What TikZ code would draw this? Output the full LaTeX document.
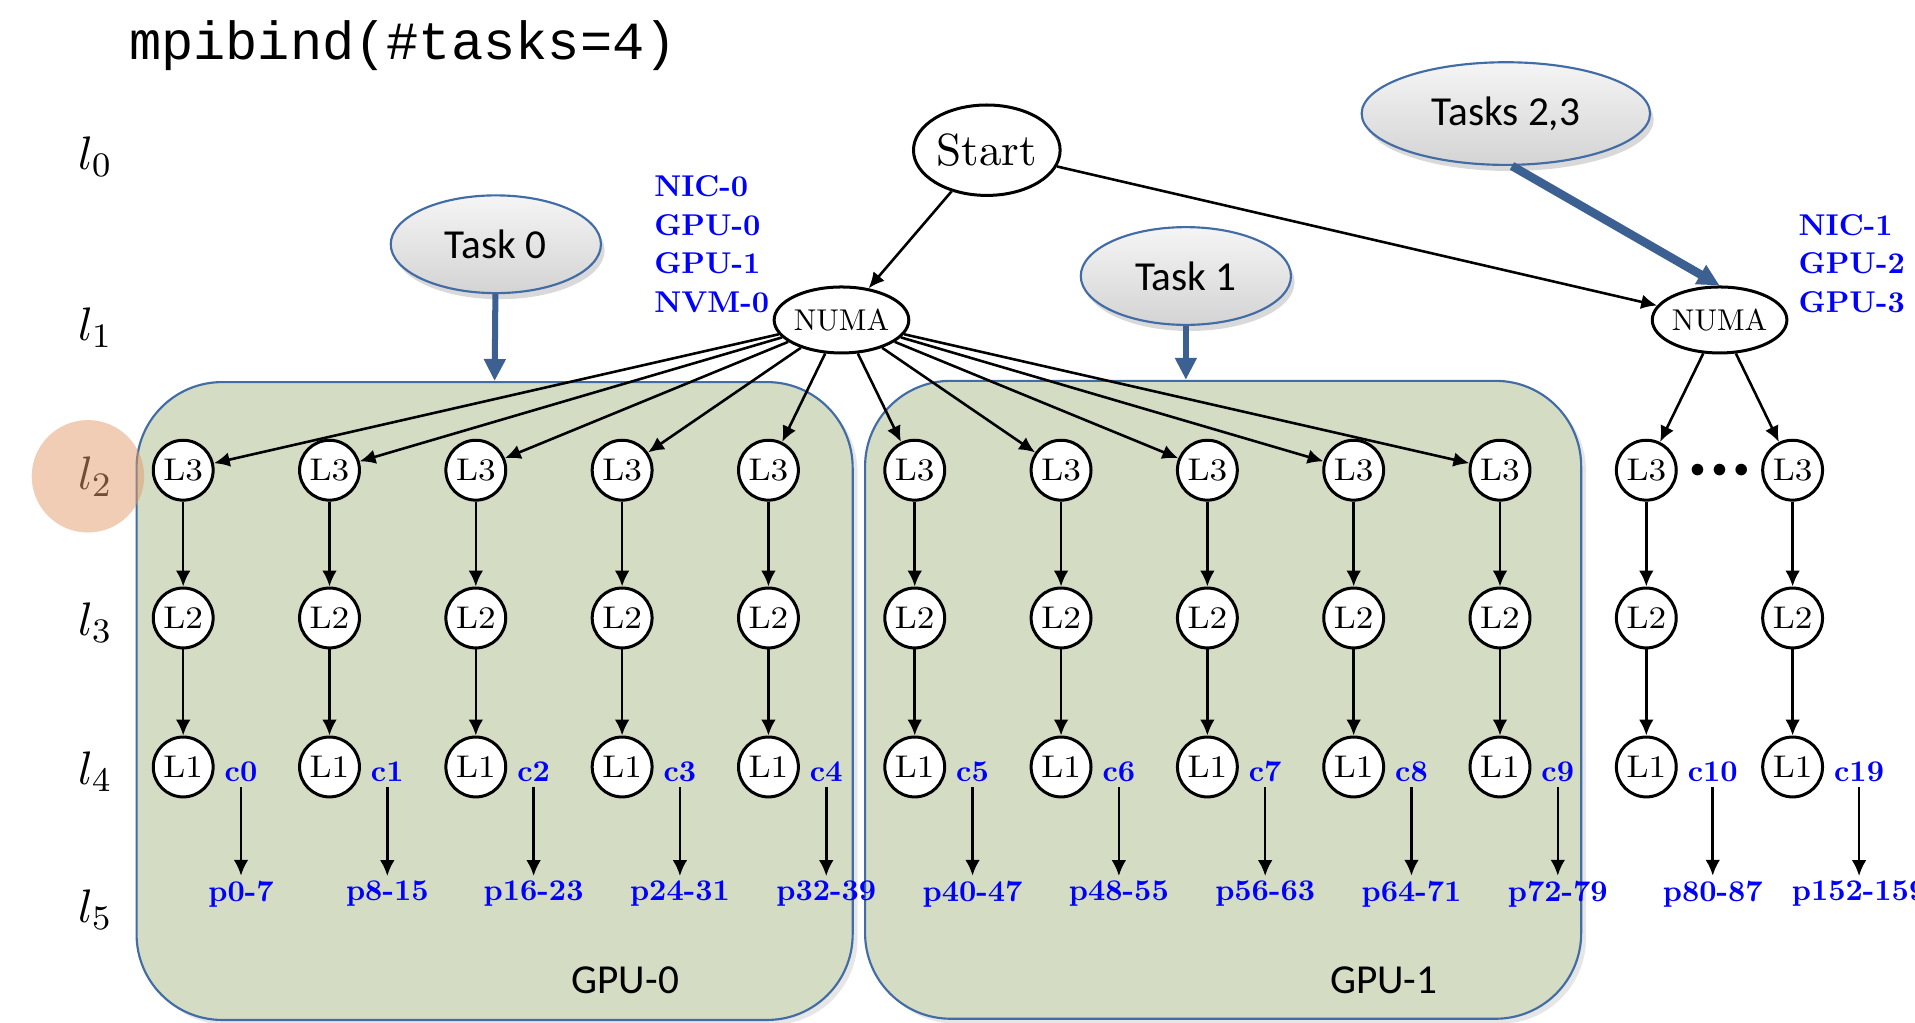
\documentclass[tikz,border=0pt]{standalone}
\usepackage{fontspec}
\usepackage{graphicx}
\setsansfont{Carlito}
\newfontfamily\codefont{Liberation Mono}
\usetikzlibrary{arrows.meta,shapes.geometric,shadows}

% Tree labels are set at 10pt and shrunk, so they keep the 10pt letter shapes.
\newcommand\hwtag[1]{\scalebox{0.7}{#1}}
\newcommand\cachetag[1]{\scalebox{0.82}[0.73]{#1}}

\begin{document}
\begin{tikzpicture}[
    x=0.01cm,
    y=-0.01cm,
    >={Latex[length=1.3mm,width=1.2mm]},
    cache/.style={circle, draw=black, fill=white, line width=0.7pt,
        minimum size=4.9mm, inner sep=0pt, font=\fontsize{10}{12}\selectfont},
    numa/.style={ellipse, draw=black, fill=white, line width=0.7pt,
        minimum width=10.4mm, minimum height=5.4mm, inner sep=0pt,
        font=\fontsize{10}{12}\selectfont},
    root/.style={ellipse, draw=black, fill=white, line width=0.7pt,
        minimum width=12mm, minimum height=7.4mm, inner sep=0pt,
        font=\fontsize{10.5}{12}\selectfont},
    task/.style={
        ellipse,
        draw=taskline,
        line width=0.5pt,
        top color=gray!8,
        bottom color=gray!34,
        minimum height=8mm,
        inner sep=0pt,
        font=\sffamily\fontsize{9.6}{11}\selectfont,
        drop shadow={opacity=0.3, shadow xshift=0.3mm, shadow yshift=-0.5mm}
    },
    gpubox/.style={
        draw=taskline,
        line width=0.5pt,
        fill=gpufill,
        rounded corners=7mm,
        minimum width=58.6mm,
        minimum height=52.2mm,
        drop shadow={opacity=0.2, shadow xshift=0.4mm, shadow yshift=-0.4mm}
    },
    gpulabel/.style={font=\sffamily\fontsize{9.6}{11}\selectfont},
    dev/.style={text=blue, font=\bfseries\fontsize{10}{12.8}\selectfont, inner sep=0pt},
    core/.style={text=blue, font=\bfseries\fontsize{10}{12}\selectfont, inner sep=1pt},
    level/.style={font=\fontsize{11}{12}\selectfont},
    edge/.style={->, line width=0.6pt},
    assign/.style={draw=taskarrow, -{Triangle[length=1.8mm,width=1.7mm]}}
]

\definecolor{taskline}{RGB}{66,108,165}
\definecolor{taskarrow}{RGB}{60,96,145}
\definecolor{gpufill}{RGB}{212,220,196}
\definecolor{hilite}{RGB}{225,155,105}

\path[use as bounding box] (0,0) rectangle (1568,837);

% GPU regions behind the tree.
\node[gpubox] (gpu0) at (405,574) {};
\node[gpubox] (gpu1) at (1001.5,573) {};
\node[gpulabel] (gpu0name) at (512,803) {GPU-0};
\node[gpulabel] (gpu1name) at (1133,803) {GPU-1};

\node[anchor=west, inner sep=0pt, font=\codefont\fontsize{12.5}{14}\selectfont]
    (title) at (105,37) {mpibind(\#tasks=4)};

% Tree levels.
\foreach \n/\y in {0/128,1/268,2/390,3/510,4/632,5/745} {
    \node[level] (lev\n) at (78,\y) {$l_\n$};
}
\node[circle, fill=hilite, fill opacity=0.5, minimum size=9.2mm] (focus) at (72,390) {};

% Machine topology.
\node[root] (start) at (808,123) {Start};
\node[numa] (numa0) at (689,262) {\hwtag{NUMA}};
\node[numa] (numa1) at (1408,262) {\hwtag{NUMA}};
\node[dev, anchor=west] (dev0) at (535,202)
    {\hwtag{\begin{tabular}{@{}l@{}}NIC-0\\GPU-0\\GPU-1\\NVM-0\end{tabular}}};
\node[dev, anchor=west] (dev1) at (1472,218)
    {\hwtag{\begin{tabular}{@{}l@{}}NIC-1\\GPU-2\\GPU-3\end{tabular}}};
\draw[edge] (start) -- (numa0);
\draw[edge] (start) -- (numa1);

\foreach \k/\cn/\pn in {0/c0/p0-7, 1/c1/p8-15, 2/c2/p16-23, 3/c3/p24-31,
    4/c4/p32-39, 5/c5/p40-47, 6/c6/p48-55, 7/c7/p56-63, 8/c8/p64-71,
    9/c9/p72-79, 10/c10/p80-87, 11/c19/p152-159} {
    \node[cache] (l3-\k) at (150+119.8*\k,385) {\cachetag{L3}};
    \node[cache] (l2-\k) at (150+119.8*\k,506) {\cachetag{L2}};
    \node[cache] (l1-\k) at (150+119.8*\k,628) {\cachetag{L1}};
    \node[core, anchor=west] (c\k) at ([shift={(4,4)}]l1-\k.east) {\hwtag{\cn}};
    \node[core] (p\k) at (c\k |- 0,732) {\hwtag{\pn}};
    \draw[edge] (l3-\k) -- (l2-\k);
    \draw[edge] (l2-\k) -- (l1-\k);
    \draw[edge] (c\k) -- (p\k);
}
\foreach \k in {0,...,9} {
    \draw[edge] (numa0) -- (l3-\k);
}
\foreach \k in {10,11} {
    \draw[edge] (numa1) -- (l3-\k);
}
\node[font=\fontsize{6.5}{7}\selectfont] (more) at (1408,385)
    {${\bullet}\,{\bullet}\,{\bullet}$};

% Task placement.
\node[task, minimum width=17.2mm] (task0) at (406,200) {Task 0};
\node[task, minimum width=17.2mm] (task1) at (971,226) {Task 1};
\node[task, minimum width=23.6mm, minimum height=8.4mm] (task23) at (1233,93) {Tasks 2,3};
\draw[assign, line width=1.4pt] (task0) -- (gpu0.north);
\draw[assign, line width=1.4pt] (task1) -- (task1 |- gpu1.north);
\draw[assign, line width=2pt] ([xshift=0.5mm]task23.south) -- (numa1.north);

\end{tikzpicture}
\end{document}
